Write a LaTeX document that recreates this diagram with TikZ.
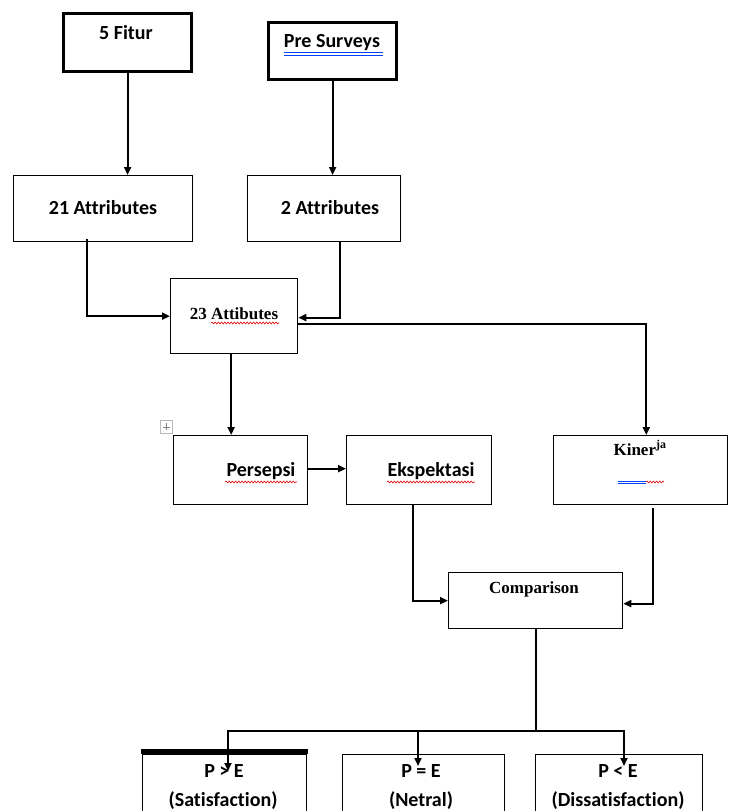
\documentclass[tikz,border=0pt]{standalone}
\usepackage{fontspec}
\newfontfamily\calfont[Ligatures=NoCommon]{Carlito}
\newfontfamily\tnrfont{Liberation Serif}
\usetikzlibrary{arrows.meta,decorations.pathmorphing,calc}
\begin{document}
\begin{tikzpicture}[x=1pt,y=-1pt,
  box/.style={draw,line width=1.3pt,anchor=north west,inner sep=0pt},
  thickbox/.style={draw,line width=3.2pt,anchor=north west,inner sep=0pt},
  cb/.style={inner sep=0pt,font=\calfont\bfseries\fontsize{20}{24}\selectfont},
  sb/.style={inner sep=0pt,font=\tnrfont\bfseries\fontsize{17}{20}\selectfont},
  conn/.style={line width=1.9pt},
  arr/.style={conn,-{Triangle[length=8pt,width=7pt]}},
  wavy/.style={red!90!black,line width=0.6pt,decorate,decoration={snake,amplitude=0.9pt,segment length=3.2pt}},
  spell/.style={blue!75!cyan,line width=0.7pt}]
\useasboundingbox (0,0) rectangle (729,811);
\clip (0,0) rectangle (729,811);
\fill[white] (0,0) rectangle (729,811);

% boxes
\node[thickbox,minimum width=128,minimum height=58] (f5) at (62,12) {};
\node[thickbox,minimum width=128,minimum height=57] (pre) at (267,21) {};
\node[box,minimum width=179,minimum height=66] (a21) at (13,175) {};
\node[box,minimum width=153,minimum height=66] (a2) at (247,175) {};
\node[box,minimum width=127,minimum height=75] (a23) at (170,278) {};
\node[box,minimum width=134,minimum height=69] (per) at (173,435) {};
\node[box,minimum width=145,minimum height=69] (eks) at (346,435) {};
\node[box,minimum width=174,minimum height=69] (kin) at (553,435) {};
\node[box,minimum width=174,minimum height=56] (cmp) at (448,572) {};
\node[box,minimum width=164,minimum height=80] (sat) at (142,754) {};
\node[box,minimum width=162,minimum height=80] (net) at (342,754) {};
\node[box,minimum width=167,minimum height=80] (dis) at (535,754) {};
\fill (sat.north west) ++(-0.65,0) rectangle ([xshift=0.65pt,yshift=5pt]sat.north east);

% table move handle
\draw[gray!55,line width=0.6pt,fill=white] (160.5,420.5) rectangle (172.5,433);
\draw[gray,line width=0.6pt] (163,426.8) -- (170,426.8) (166.5,423.3) -- (166.5,430.3);

% texts
\node[cb] (t5) at (126,33) {5 Fitur};
\node[cb] (tpre) at (332,43) {Pre Surveys};
\draw[spell] (tpre.south west) ++(0,1.5) -- ++(99,0);
\draw[spell] (tpre.south west) ++(0,3.8) -- ++(99,0);
\node[cb] (t21) at (103,208) {21 Attributes};
\node[cb] (t2) at (330,208) {2 Attributes};
\node[sb] (t23) at (234,314) {23 Attibutes};
\draw[wavy] (211,323) -- (279,323);
\node[cb] (tper) at (261,471) {Persepsi};
\draw[wavy] (225,482) -- (297,482);
\node[cb] (teks) at (431,471) {Ekspektasi};
\draw[wavy] (387,482) -- (475,482);
\node[sb] (tkin) at (640,448) {Kiner\textsuperscript{ja}};
\draw[spell] (618,481) -- (646,481) (618,483.3) -- (646,483.3);
\draw[wavy] (646,482) -- (664,482);
\node[sb] (tcmp) at (534,589) {Comparison};
\node[cb] (tpg) at (224,771) {P > E};
\node[cb] (tsat) at (223,801) {(Satisfaction)};
\node[cb] (tpq) at (421,771) {P = E};
\node[cb] (tnet) at (421,801) {(Netral)};
\node[cb] (tpl) at (618,771) {P < E};
\node[cb] (tdis) at (618,801) {(Dissatisfaction)};

% connectors
\draw[arr] (f5.south) -- (f5.south |- a21.north);
\draw[arr] (pre.south) -- (pre.south |- a2.north);
\draw[arr] ([xshift=74pt,yshift=3pt]a21.south west) |- (a23.west);
\draw[arr] ([xshift=93pt]a2.south west) |- ([yshift=-1.5pt]a23.east);
\draw[arr] ([yshift=-7.5pt]a23.east) -| ([xshift=-82pt]kin.north east);
\draw[arr] ([xshift=-3pt]a23.south) -- ([xshift=-3pt]a23.south |- per.north);
\draw[arr] ([yshift=1.5pt]per.east) -- ([yshift=1.5pt]eks.west);
\draw[arr] ([xshift=67pt]eks.south west) |- (cmp.west);
\draw[arr] ([xshift=-75pt,yshift=-3pt]kin.south east) |- ([yshift=-3pt]cmp.east);
\coordinate (hl) at (228,731);
\coordinate (hm) at (418,731);
\coordinate (hr) at (624,731);
\draw[conn] (cmp.south) -- (cmp.south |- hl);
\draw[conn,line cap=rect] (hl) -- (hr);
\draw[arr] (hl) -- (hl |- tpg.center);
\draw[arr] (hm) -- ([yshift=5pt]hm |- tpq.center);
\draw[arr] (hr) -- ([yshift=5pt]hr |- tpl.center);
\end{tikzpicture}
\end{document}
